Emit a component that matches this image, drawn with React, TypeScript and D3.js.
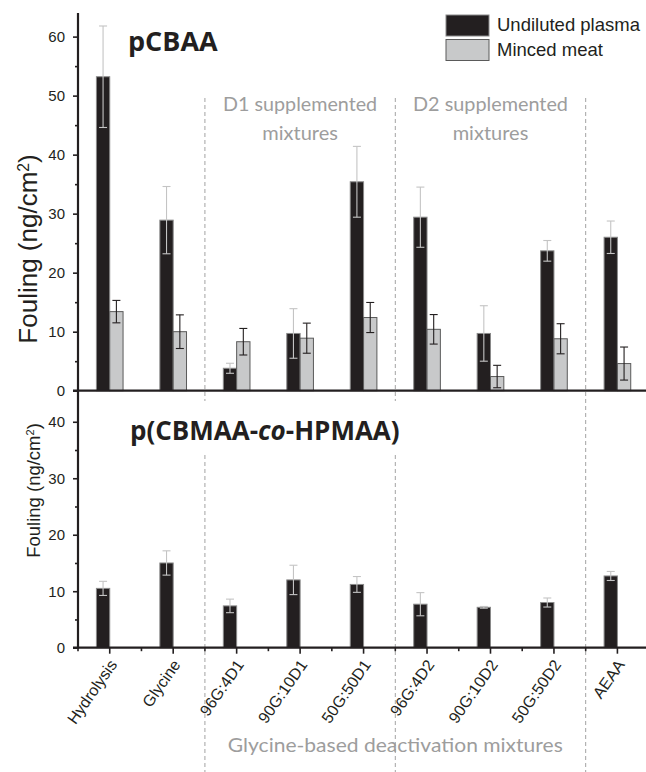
import { useEffect, useRef } from "react"
import * as d3 from "d3"

const categories = ["Hydrolysis", "Glycine", "96G:4D1", "90G:10D1", "50G:50D1", "96G:4D2", "90G:10D2", "50G:50D2", "AEAA"]
const seriesNames = ["Undiluted plasma", "Minced meat"]

// pCBAA panel
const pcbaaPlasma = [53.2, 28.9, 3.8, 9.7, 35.4, 29.4, 9.7, 23.7, 26.0]
const pcbaaPlasmaErr = [8.6, 5.7, 0.85, 4.2, 6.0, 5.1, 4.7, 1.75, 2.75]
const pcbaaMeat = [13.4, 10.0, 8.3, 8.9, 12.4, 10.4, 2.4, 8.8, 4.6]
const pcbaaMeatErr = [1.9, 2.85, 2.25, 2.55, 2.55, 2.5, 1.9, 2.55, 2.8]

// p(CBMAA-co-HPMAA) panel (plasma only)
const copolyPlasma = [10.5, 15.0, 7.4, 12.0, 11.2, 7.7, 7.15, 8.0, 12.7]
const copolyPlasmaErr = [1.25, 2.15, 1.2, 2.6, 1.4, 2.05, 0.15, 0.8, 0.8]

const topTicks = [0, 10, 20, 30, 40, 50, 60]
const topMinor = [5, 15, 25, 35, 45, 55]
const bottomTicks = [0, 10, 20, 30, 40]
const bottomMinor = [5, 15, 25, 35]

// index of first category after each dashed separator
const separators = [2, 5, 8]

const INK = "#231f20"
const GREY_TXT = "#9d9d9d"
const ARIAL = "'Liberation Sans', Arial, sans-serif"
const CALIBRI = "Lato, 'Open Sans', sans-serif"

export default function App() {
  const svgRef = useRef<SVGSVGElement>(null)

  useEffect(() => {
    if (!svgRef.current) return
    const svg = d3.select(svgRef.current)
    svg.selectAll("*").remove()

    const left = 78
    const step = 63.46
    const x = d3.scaleBand<string>().domain(categories).range([left, left + step * categories.length]).padding(0)
    const cx = (c: string) => (x(c) as number) + x.bandwidth() / 2
    const barW = x.bandwidth() * 0.21

    const yTop = d3.scaleLinear().domain([0, 64]).range([390.7, 13])
    const yBot = d3.scaleLinear().domain([0, 45.5]).range([647.7, 390.7])

    // dashed separators
    separators.forEach((idx, i) => {
      const sx = x(categories[idx]) as number
      const segs = i < 2 ? [[98, 401], [455, 772]] : [[98, 772]]
      segs.forEach(([a, b]) => {
        svg.append("line")
          .attr("x1", sx).attr("x2", sx).attr("y1", a).attr("y2", b)
          .attr("stroke", "#a3a3a3").attr("stroke-width", 1).attr("stroke-dasharray", "4,3")
      })
    })

    // bars helper
    const drawBars = (
      vals: number[], errs: number[], y: d3.ScaleLinear<number, number>,
      offset: number, fill: string, stroke: string, errColor: string
    ) => {
      const g = svg.append("g")
      g.selectAll("rect").data(vals).enter().append("rect")
        .attr("x", (_, i) => cx(categories[i]) + offset)
        .attr("width", barW)
        .attr("y", (d) => y(d))
        .attr("height", (d) => y(0) - y(d))
        .attr("fill", fill).attr("stroke", stroke).attr("stroke-width", 1)
      const eg = g.append("g").attr("stroke", errColor).attr("stroke-width", 1.1).attr("fill", "none")
      vals.forEach((v, i) => {
        const ex = cx(categories[i]) + offset + barW / 2
        const y1 = y(v + errs[i]), y2 = y(Math.max(0, v - errs[i]))
        eg.append("line").attr("x1", ex).attr("x2", ex).attr("y1", y1).attr("y2", y2)
        eg.append("line").attr("x1", ex - 4).attr("x2", ex + 4).attr("y1", y1).attr("y2", y1)
        eg.append("line").attr("x1", ex - 4).attr("x2", ex + 4).attr("y1", y2).attr("y2", y2)
      })
    }

    drawBars(pcbaaPlasma, pcbaaPlasmaErr, yTop, -barW, INK, "#8a8a8a", "#c4c4c4")
    drawBars(pcbaaMeat, pcbaaMeatErr, yTop, 0, "#c8c9ca", "#5a5a5a", INK)
    drawBars(copolyPlasma, copolyPlasmaErr, yBot, -barW, INK, "#8a8a8a", "#c4c4c4")

    // y axes
    const styleAxis = (g: d3.Selection<SVGGElement, unknown, null, undefined>) => {
      g.select(".domain").remove()
      g.selectAll(".tick line").attr("stroke", INK).attr("stroke-width", 1.6)
      g.selectAll(".tick text").attr("fill", INK).style("font-family", ARIAL).style("font-size", "15px")
    }
    const yAxis = (scale: d3.ScaleLinear<number, number>, major: number[], minor: number[]) => {
      const gMaj = svg.append("g").attr("transform", `translate(${left},0)`)
        .call(d3.axisLeft(scale).tickValues(major).tickSize(5).tickPadding(8).tickFormat(d3.format("d")))
      styleAxis(gMaj)
      const gMin = svg.append("g").attr("transform", `translate(${left},0)`)
        .call(d3.axisLeft(scale).tickValues(minor).tickSize(3).tickFormat(() => ""))
      styleAxis(gMin)
    }
    yAxis(yTop, topTicks, topMinor)
    yAxis(yBot, bottomTicks, bottomMinor)

    // axis lines
    const axisLine = (x1: number, y1: number, x2: number, y2: number) =>
      svg.append("line").attr("x1", x1).attr("y1", y1).attr("x2", x2).attr("y2", y2)
        .attr("stroke", INK).attr("stroke-width", 2.2)
    axisLine(left, yTop.range()[1], left, yBot(0) + 1)
    axisLine(left - 5, yTop(0), 646, yTop(0))
    axisLine(left - 5, yBot(0), 646, yBot(0))

    // x ticks on bottom panel
    const xMajor = svg.append("g").attr("transform", `translate(0,${yBot(0)})`)
    categories.forEach((c) => {
      xMajor.append("line").attr("x1", cx(c)).attr("x2", cx(c)).attr("y1", 0).attr("y2", 6)
        .attr("stroke", INK).attr("stroke-width", 1.6)
      xMajor.append("text")
        .attr("transform", `translate(${cx(c) + 8},${17}) rotate(-55)`)
        .attr("text-anchor", "end")
        .attr("fill", INK).style("font-family", ARIAL).style("font-size", "16px")
        .text(c)
    })
    categories.forEach((c) => {
      const ex = x(c) as number
      xMajor.append("line").attr("x1", ex).attr("x2", ex).attr("y1", 0).attr("y2", 3.5)
        .attr("stroke", INK).attr("stroke-width", 1.6)
    })

    // y axis titles
    const yTitle = (px: number, py: number, size: number) => {
      const t = svg.append("text")
        .attr("transform", `translate(${px},${py}) rotate(-90)`)
        .attr("text-anchor", "middle").attr("fill", INK)
        .style("font-family", ARIAL).style("font-size", `${size}px`)
      t.append("tspan").text("Fouling (ng/cm")
      t.append("tspan").attr("baseline-shift", "super").style("font-size", `${size * 0.6}px`).text("2")
      t.append("tspan").text(")")
    }
    yTitle(36.5, 249, 26)
    yTitle(40, 490.5, 18.5)

    // panel titles
    svg.append("text").attr("x", 128).attr("y", 50.5).attr("fill", INK)
      .style("font-family", "'Open Sans', sans-serif").style("font-weight", 700).style("font-size", "27px")
      .text("pCBAA")
    const t2 = svg.append("text").attr("x", 130).attr("y", 440).attr("fill", INK)
      .style("font-family", "'Open Sans', sans-serif").style("font-weight", 700).style("font-size", "26px")
    t2.append("tspan").text("p(CBMAA-")
    t2.append("tspan").style("font-style", "italic").text("co")
    t2.append("tspan").text("-HPMAA)")

    // group labels
    const grey = (tx: number, ty: number, s: string, len?: number) => {
      const t = svg.append("text").attr("x", tx).attr("y", ty).attr("text-anchor", "middle")
        .attr("fill", GREY_TXT).style("font-family", CALIBRI).style("font-size", "20px").text(s)
      if (len) t.attr("textLength", len).attr("lengthAdjust", "spacingAndGlyphs")
    }
    const mid = (a: number, b: number) => ((x(categories[a]) as number) + (x(categories[b]) as number) + x.bandwidth()) / 2
    grey(mid(2, 4), 111, "D1 supplemented", 154)
    grey(mid(2, 4), 140, "mixtures")
    grey(mid(5, 7), 111, "D2 supplemented", 155)
    grey(mid(5, 7), 140, "mixtures")
    grey(mid(2, 7), 752, "Glycine-based deactivation mixtures", 335)

    // legend
    const legend = svg.append("g").attr("transform", "translate(446,15)")
    const lFill = [INK, "#c8c9ca"]
    const lStroke = ["#8a8a8a", "#5a5a5a"]
    seriesNames.forEach((name, i) => {
      legend.append("rect").attr("x", 0).attr("y", i * 24.5).attr("width", 43).attr("height", 21)
        .attr("fill", lFill[i]).attr("stroke", lStroke[i]).attr("stroke-width", 1)
      legend.append("text").attr("x", 51).attr("y", i * 24.5 + 16).attr("fill", INK)
        .style("font-family", ARIAL).style("font-size", "18.5px").text(name)
    })
  }, [])

  return (
    <svg
      ref={svgRef}
      width={646}
      height={772}
      style={{ position: "absolute", left: 0, top: 0, background: "#fff" }}
    />
  )
}
